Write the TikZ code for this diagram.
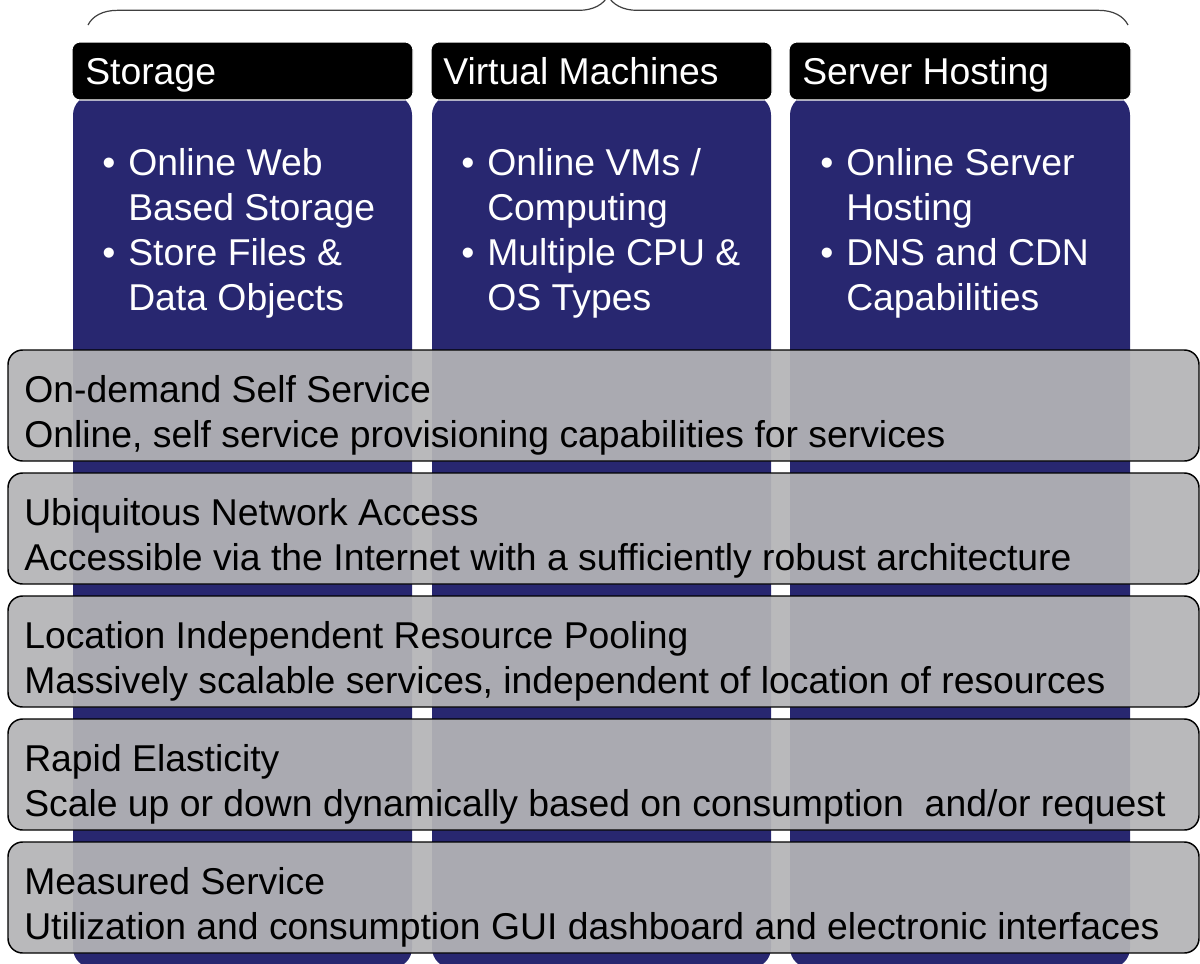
\documentclass[tikz,border=0pt]{standalone}
\usepackage{fontspec}
\setmainfont{Liberation Sans}
\usetikzlibrary{decorations.pathreplacing}
\definecolor{colblue}{RGB}{40,39,112}
\definecolor{bandgray}{RGB}{180,180,182}
\definecolor{bracegray}{RGB}{64,64,64}
\begin{document}
\begin{tikzpicture}[x=0.75pt, y=-0.75pt,
% common options for the column heads and bodies:
head/.style = {draw=white, fill=black, line width=0.8pt, rounded corners=6pt},
body/.style = {fill=colblue, rounded corners=15pt},
% common options for the bands:
band/.style = {draw=black, line width=1.1pt, fill=bandgray, fill opacity=0.93,
            rounded corners=11pt},
% common options for the text lines:
txt/.style = {anchor=base west, inner sep=0, font=\fontsize{28}{33.6}\selectfont},
htxt/.style = {txt, text=white}]
\useasboundingbox (0,0) rectangle (1200,964);
% brace over the three columns
\coordinate (BL) at (88,25);
\coordinate (BR) at (1128,25);
\draw[bracegray, line width=0.9pt, decorate, decoration={brace, amplitude=22pt}] (BL) -- (BR);
% columns
\fill[body] (73,95) rectangle (412,968);
\fill[body] (432,95) rectangle (771,968);
\fill[body] (790,95) rectangle (1130,968);
\draw[head] (72,42) rectangle (413,100);
\draw[head] (431,42) rectangle (772,100);
\draw[head] (789,42) rectangle (1131,100);
\node[htxt] (H1) at (85,84) {Storage};
\node[htxt] (H2) at (443,84) {Virtual Machines};
\node[htxt] (H3) at (802,84) {Server Hosting};
\node[htxt] (S0) at (102,175) {•};
\node[htxt] (S1) at (128,175) {Online Web};
\node[htxt] (S2) at (128,220) {Based Storage};
\node[htxt] (S3) at (102,265) {•};
\node[htxt] (S4) at (128,265) {Store Files \&};
\node[htxt] (S5) at (128,310) {Data Objects};
\node[htxt] (V0) at (461,175) {•};
\node[htxt] (V1) at (487,175) {Online VMs /};
\node[htxt] (V2) at (487,220) {Computing};
\node[htxt] (V3) at (461,265) {•};
\node[htxt] (V4) at (487,265) {Multiple CPU \&};
\node[htxt] (V5) at (487,310) {OS Types};
\node[htxt] (R0) at (820,175) {•};
\node[htxt] (R1) at (846,175) {Online Server};
\node[htxt] (R2) at (846,220) {Hosting};
\node[htxt] (R3) at (820,265) {•};
\node[htxt] (R4) at (846,265) {DNS and CDN};
\node[htxt] (R5) at (846,310) {Capabilities};
% bands
\draw[band] (8,350) rectangle (1199,461);
\draw[band] (8,473) rectangle (1199,584);
\draw[band] (8,596) rectangle (1199,707);
\draw[band] (8,719) rectangle (1199,830);
\draw[band] (8,842) rectangle (1199,953);
\node[txt] (B1) at (24,402) {On-demand Self Service};
\node[txt] (D1) at (24,447) {Online, self service provisioning capabilities for services};
\node[txt] (B2) at (24,525) {Ubiquitous Network Access};
\node[txt] (D2) at (24,570) {Accessible via the Internet with a sufficiently robust architecture};
\node[txt] (B3) at (24,648) {Location Independent Resource Pooling};
\node[txt] (D3) at (24,693) {Massively scalable services, independent of location of resources};
\node[txt] (B4) at (24,771) {Rapid Elasticity};
\node[txt] (D4) at (24,816) {Scale up or down dynamically based on consumption \ and/or request};
\node[txt] (B5) at (24,894) {Measured Service};
\node[txt] (D5) at (24,939) {Utilization and consumption GUI dashboard and electronic interfaces};
\end{tikzpicture}
\end{document}
